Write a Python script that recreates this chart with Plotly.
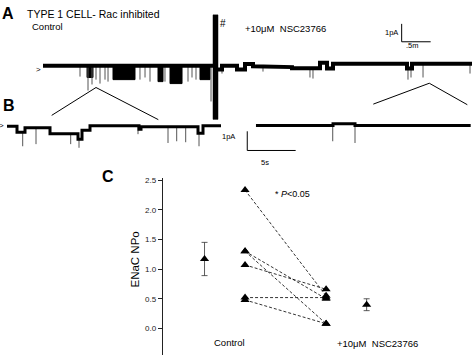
import plotly.graph_objects as go

W, H = 472, 355
FONT = "Liberation Sans, Arial, sans-serif"

# ---------------- Panel A : long recording (time in min, current in pA) ----------------
A_ctrl_bounds = [0.0, 0.552, 0.724, 1.983, 2.448, 2.931]
A_ctrl_levels = [0.22, 0.17, 0.22, 0.17, 0.22]
A_drug_bounds = [3.017, 3.086, 3.345, 3.483, 3.621, 3.793, 4.293, 4.776, 4.897, 5.0, 6.276, 6.362, 7.397]
A_drug_levels = [0.0, 0.22, 0.0, 0.31, 0.19, 0.14, 0.08, 0.39, 0.06, 0.33, 0.06, 0.33]
A_burst_start = [0.759, 1.207, 1.983, 2.190, 2.707]
A_burst_end = [0.862, 1.586, 2.069, 2.397, 2.879]
A_burst_depth = [-0.44, -0.56, -0.67, -0.78, -0.56]
A_spike_t = [0.638, 0.776, 0.845, 0.914, 0.983, 1.069, 1.121, 1.672, 1.759, 1.845, 2.103, 2.500,
             2.569, 2.638, 2.897, 3.086, 3.793, 4.603, 4.655, 6.293, 6.345, 6.552, 7.362]
A_spike_depth = [-0.39, -1.17, -0.83, -0.56, -0.78, -0.56, -0.67, -0.56, -0.44, -0.67, -0.67, -0.67,
                 -0.44, -0.56, -1.78, -0.22, -0.11, -0.44, -0.50, -0.56, -0.44, -0.44, -0.22]
A_artifact_t = [2.931, 3.017]
A_artifact_I = [3.06, -2.78]
A_scale_pA = 1.0
A_scale_min = 0.5

# ---------------- Panel B : expanded segments (time in s, current in pA) ----------------
B_left_bounds = [0.0, 1.033, 1.860, 4.442, 7.335, 7.748, 8.574, 13.636, 13.843, 19.731, 20.248, 22.107]
B_left_levels = [0.0, -0.31, -0.08, -0.39, -0.67, -0.21, 0.03, -0.16, -0.03, -0.36, 0.03]
B_left_spike_t = [1.622, 2.996, 6.581, 7.438, 13.533, 16.632, 17.531, 18.461, 19.835]
B_left_spike_depth = [-1.04, -0.93, -0.93, -1.12, -0.41, -0.87, -0.78, -0.83, -1.04]
B_right_bounds = [25.72, 33.68, 35.95, 47.90]
B_right_levels = [0.04, 0.13, 0.04]
B_right_spike_t = [33.65, 35.95]
B_right_spike_depth = [-0.78, -0.87]
B_scale_pA = 1.0
B_scale_s = 5.0

# ---------------- Panel C : ENaC NPo ----------------
C_groups = ["Control", "+10\u03bcM  NSC23766"]
C_control = [2.33, 1.30, 1.30, 1.07, 0.52, 0.48]
C_nsc = [0.55, 0.50, 0.08, 0.66, 0.52, 0.08]
C_mean = [1.17, 0.40]
C_sem = [0.28, 0.10]
C_ticks = [0.0, 0.5, 1.0, 1.5, 2.0, 2.5]


def steps(bounds, levels):
    xs, ys = [], []
    for i, lv in enumerate(levels):
        xs += [bounds[i], bounds[i + 1]]
        ys += [lv, lv]
    return xs, ys


def level_at(bounds, levels, t):
    for i, lv in enumerate(levels):
        if bounds[i] <= t <= bounds[i + 1]:
            return lv
    return levels[-1]


def spikes(ts, depths, bounds, levels):
    xs, ys = [], []
    for t, d in zip(ts, depths):
        xs += [t, t, None]
        ys += [level_at(bounds, levels, t), d, None]
    return xs, ys


def P(x, y):
    return x / W, 1 - y / H


fig = go.Figure()

# ---- A traces
ax = dict(xaxis="x", yaxis="y")
bx, by = [], []
for t0, t1, d in zip(A_burst_start, A_burst_end, A_burst_depth):
    b = level_at(A_ctrl_bounds, A_ctrl_levels, t0)
    bx += [t0, t1, t1, t0, t0, None]
    by += [b, b, d, d, b, None]
fig.add_trace(go.Scatter(x=bx, y=by, mode="lines", fill="toself", fillcolor="black",
                         line=dict(color="black", width=1), hoverinfo="skip", **ax))
sx, sy = [], []
for t, d in zip(A_spike_t, A_spike_depth):
    if t <= A_ctrl_bounds[-1]:
        b = level_at(A_ctrl_bounds, A_ctrl_levels, t)
    else:
        b = level_at(A_drug_bounds, A_drug_levels, t)
    sx += [t, t, None]
    sy += [b, d, None]
fig.add_trace(go.Scatter(x=sx, y=sy, mode="lines", line=dict(color="#555", width=1),
                         hoverinfo="skip", **ax))
for bnds, lvls in [(A_ctrl_bounds, A_ctrl_levels), (A_drug_bounds, A_drug_levels)]:
    xs, ys = steps(bnds, lvls)
    fig.add_trace(go.Scatter(x=xs, y=ys, mode="lines", line=dict(color="black", width=4),
                             hoverinfo="skip", **ax))
# artifact bar
fig.add_trace(go.Scatter(x=[A_artifact_t[0], A_artifact_t[1], A_artifact_t[1], A_artifact_t[0], A_artifact_t[0]],
                         y=[A_artifact_I[0], A_artifact_I[0], A_artifact_I[1], A_artifact_I[1], A_artifact_I[0]],
                         mode="lines", fill="toself", fillcolor="black", line=dict(color="black", width=0.5),
                         hoverinfo="skip", **ax))
# scale bar A
sb_t0, sb_I0 = 6.184, 1.556
fig.add_trace(go.Scatter(x=[sb_t0, sb_t0, sb_t0 + A_scale_min], y=[sb_I0 + A_scale_pA, sb_I0, sb_I0],
                         mode="lines", line=dict(color="black", width=1), hoverinfo="skip", **ax))

# ---- B traces
bxa = dict(xaxis="x2", yaxis="y2")
for bnds, lvls, st, sd in [(B_left_bounds, B_left_levels, B_left_spike_t, B_left_spike_depth),
                           (B_right_bounds, B_right_levels, B_right_spike_t, B_right_spike_depth)]:
    xs, ys = spikes(st, sd, bnds, lvls)
    fig.add_trace(go.Scatter(x=xs, y=ys, mode="lines", line=dict(color="#555", width=1),
                             hoverinfo="skip", **bxa))
    xs, ys = steps(bnds, lvls)
    fig.add_trace(go.Scatter(x=xs, y=ys, mode="lines", line=dict(color="black", width=3),
                             hoverinfo="skip", **bxa))
sbB_t0, sbB_I0 = 24.82, -1.26
fig.add_trace(go.Scatter(x=[sbB_t0, sbB_t0, sbB_t0 + B_scale_s], y=[sbB_I0 + B_scale_pA, sbB_I0, sbB_I0],
                         mode="lines", line=dict(color="black", width=1), hoverinfo="skip", **bxa))

# ---- C
cxa = dict(xaxis="x3", yaxis="y3")
for c, n in zip(C_control, C_nsc):
    fig.add_trace(go.Scatter(x=[1, 2], y=[c, n], mode="lines",
                             line=dict(color="black", width=0.8, dash="3px,2px"), hoverinfo="skip", **cxa))
fig.add_trace(go.Scatter(x=[1] * len(C_control) + [2] * len(C_nsc), y=C_control + C_nsc, mode="markers",
                         marker=dict(symbol="triangle-up", size=8, color="black"), hoverinfo="skip", **cxa))
fig.add_trace(go.Scatter(x=[0.5, 2.5], y=C_mean, mode="markers",
                         marker=dict(symbol="triangle-up", size=8, color="black"),
                         error_y=dict(type="data", array=C_sem, color="#333", thickness=0.8, width=3),
                         hoverinfo="skip", **cxa))

ann = []


def text(x, y, s, size, xanchor="center", bold=False, angle=0):
    px, py = P(x, y)
    ann.append(dict(x=px, y=py, xref="paper", yref="paper", text=f"<b>{s}</b>" if bold else s,
                    showarrow=False, xanchor=xanchor, yanchor="middle", textangle=angle,
                    font=dict(family=FONT, size=size, color="black")))


text(0, 12, "A", 16, "left", bold=True)
text(25, 12, "TYPE 1 CELL- Rac inhibited", 10.5, "left")
text(30, 25, "Control", 9.5, "left")
text(243, 27, "+10\u03bcM  NSC23766", 9.5, "left")
text(223, 22, "#", 10)
text(400, 31, "1pA", 7.5, "right")
text(412, 44, ".5m", 7.5)
text(38, 68, "&gt;", 8)
text(1, 104, "B", 16, "left", bold=True)
text(1, 124, "&gt;", 8)
text(237, 135, "1pA", 7.5, "right")
text(265, 161, "5s", 7.5)
text(100, 175, "C", 16, "left", bold=True)
text(135, 259, "ENaC NPo", 11.5, angle=-90)
text(229, 342, C_groups[0], 9.5)
text(377, 343, C_groups[1], 9.5)
text(273, 193, "* <i>P</i>&lt;0.05", 9, "left")

shapes = []
for pts in [[(51.7, 114), (96, 86), (158.3, 118.3)], [(373.3, 102.7), (429.3, 81.7), (467.3, 103.3)]]:
    for (x0, y0), (x1, y1) in zip(pts[:-1], pts[1:]):
        a, b = P(x0, y0)
        c, d = P(x1, y1)
        shapes.append(dict(type="line", xref="paper", yref="paper", x0=a, y0=b, x1=c, y1=d,
                           line=dict(color="black", width=1)))

hidden = dict(visible=False, fixedrange=True)
fig.update_layout(
    width=W, height=H, margin=dict(l=0, r=0, t=0, b=0),
    paper_bgcolor="white", plot_bgcolor="rgba(0,0,0,0)", showlegend=False,
    font=dict(family=FONT, color="black"),
    xaxis=dict(domain=[0, 1], range=[-43 / 58, 429 / 58], anchor="y", **hidden),
    yaxis=dict(domain=[0, 1], range=[(68 - 355) / 18, 68 / 18], anchor="x", **hidden),
    xaxis2=dict(domain=[0, 1], range=[-7 / 9.68, 465 / 9.68], anchor="y2", **hidden),
    yaxis2=dict(domain=[0, 1], range=[(125 - 355) / 19.3, 125 / 19.3], anchor="x2", **hidden),
    xaxis3=dict(domain=[162.7 / W, 1], range=[-0.016, 3.80], anchor="y3", **hidden),
    yaxis3=dict(domain=[0, 178 / H], range=[-0.447, 2.534], anchor="x3", showline=True,
                linecolor="#222", linewidth=1, ticks="outside", ticklen=4, tickcolor="#222",
                tickvals=C_ticks, tickformat=".1f", showgrid=False, zeroline=False,
                tickfont=dict(family=FONT, size=8, color="#222"), fixedrange=True),
    annotations=ann, shapes=shapes,
)

fig.write_html("out.html", config={"displayModeBar": False},
               post_script="document.body.style.margin='0';document.body.style.overflow='hidden';")
